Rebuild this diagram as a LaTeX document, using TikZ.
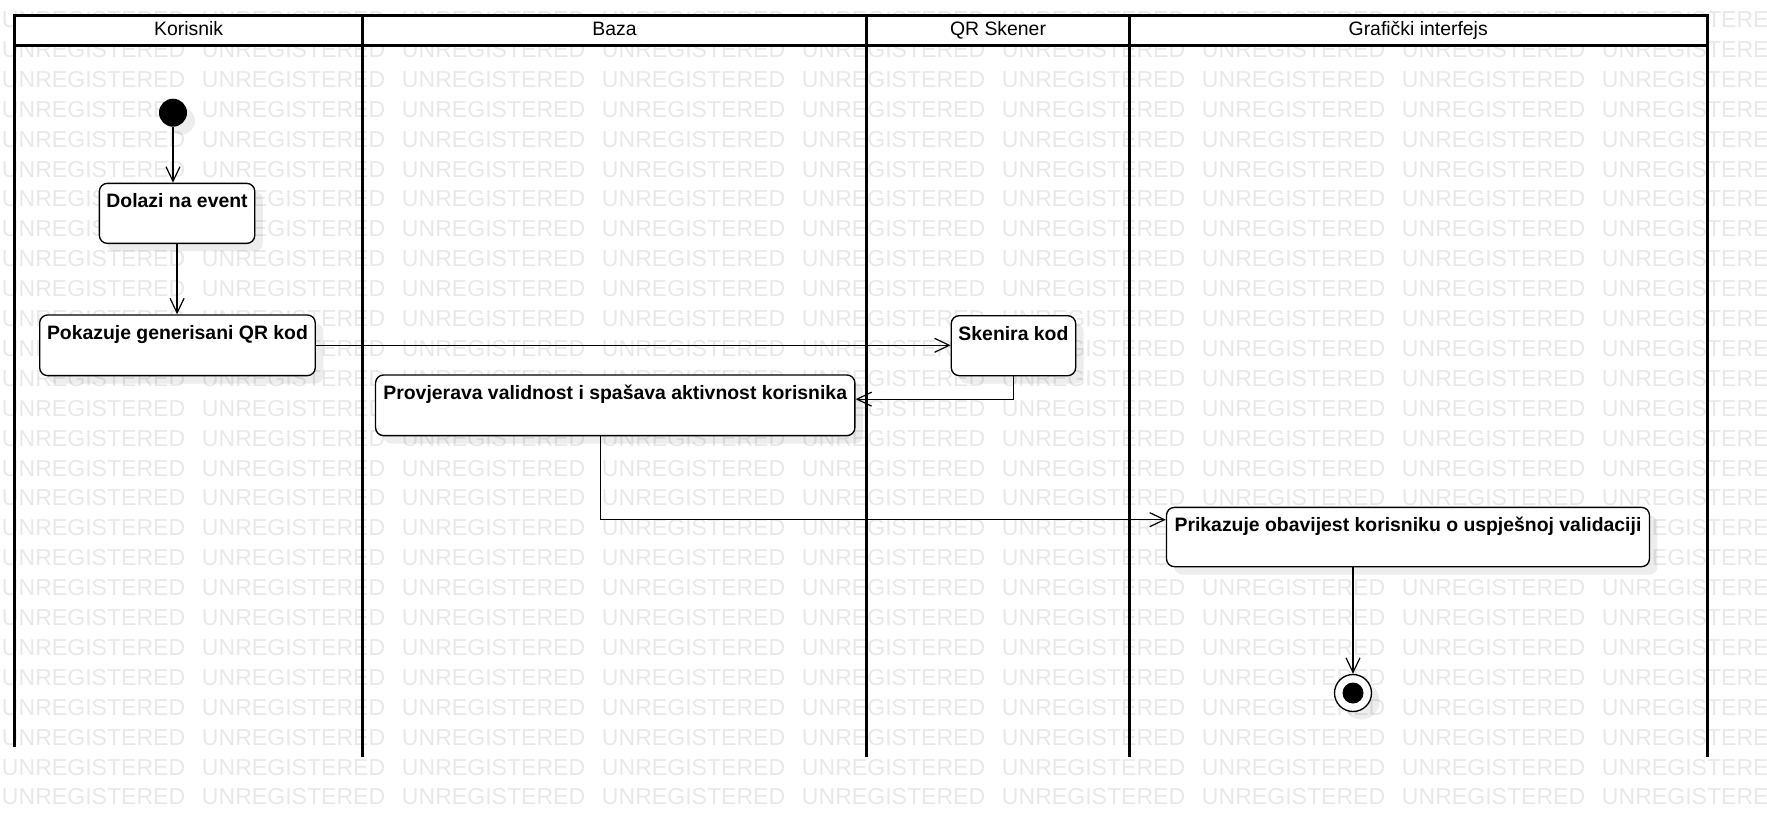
\documentclass[tikz,border=0pt]{standalone}
\usepackage{fontspec}
\setmainfont{Liberation Sans}
\usetikzlibrary{arrows.meta,calc,shadows}
\begin{document}
\begin{tikzpicture}[x=0.75pt,y=-0.75pt,
  lane/.style={line width=2.25pt},
  shad/.style={drop shadow={shadow xshift=6pt,shadow yshift=-6pt,fill=black,opacity=0.07}},
  act/.style={draw,line width=1pt,rounded corners=6pt,fill=white,inner sep=0pt,anchor=north west,shad},
  acttext/.style={font=\bfseries\fontsize{14.55pt}{17pt}\selectfont,anchor=base,inner sep=0pt},
  hdr/.style={font=\fontsize{14.55pt}{17pt}\selectfont,anchor=base,inner sep=0pt},
  flow/.style={line width=0.9pt,-{Straight Barb[length=11pt,width=10.5pt]}},
  wm/.style={font=\fontsize{17.3pt}{20pt}\selectfont,text=black!9,anchor=base west,inner sep=0pt}]
\useasboundingbox (0,0) rectangle (1767,819);
% watermark
\begin{scope}
\clip (0,0) rectangle (1767,819);
\foreach \r in {-2,...,24}{
  \foreach \c in {0,...,8}{
    \node[wm] (wm\r-\c) at ({1.7+200*\c},{87.3+29.9*\r}) {UNREGISTERED};
  }
}
\end{scope}
% swimlanes
\draw[lane,fill=white] (14.5,15) rectangle (1707,45);
\draw[lane] (14.5,15) -- (14.5,746.7);
\draw[lane] (362.8,15) -- (362.8,757);
\draw[lane] (866.5,15) -- (866.5,757);
\draw[lane] (1129.5,15) -- (1129.5,757);
\draw[lane] (1707,15) -- (1707,757);
\node[hdr] (hK) at (188.6,35) {Korisnik};
\node[hdr] (hB) at (614.6,35) {Baza};
\node[hdr] (hQ) at (998,35) {QR Skener};
\node[hdr] (hG) at (1418.2,35) {Grafički interfejs};
% start / end
\node[circle,fill=black,minimum size=21pt,inner sep=0pt,shad] (init) at (173,112.7) {};
\node[circle,draw,line width=1pt,fill=white,minimum size=27.75pt,inner sep=0pt,shad] (fin) at (1353,693) {};
\node[circle,fill=black,minimum size=15.75pt,inner sep=0pt] (finin) at (fin) {};
% activities
\node[act,minimum width=116.55pt,minimum height=45pt] (dolazi) at (98.7,182.7) {};
\node[acttext] (tdolazi) at ($(dolazi.north)+(0,25)$) {Dolazi na event};
\node[act,minimum width=206.7pt,minimum height=45.5pt] (pokazuje) at (39,314.3) {};
\node[acttext] (tpokazuje) at ($(pokazuje.north)+(0,25)$) {Pokazuje generisani QR kod};
\node[act,minimum width=93.3pt,minimum height=45pt] (skenira) at (950.6,315) {};
\node[acttext] (tskenira) at ($(skenira.north)+(0,25)$) {Skenira kod};
\node[act,minimum width=359.5pt,minimum height=45.5pt] (provjerava) at (374.9,374.3) {};
\node[acttext] (tprovjerava) at ($(provjerava.north)+(0,25)$) {Provjerava validnost i spašava aktivnost korisnika};
\node[act,minimum width=362.25pt,minimum height=44.5pt] (prikazuje) at (1165.8,506.7) {};
\node[acttext] (tprikazuje) at ($(prikazuje.north)+(0,25)$) {Prikazuje obavijest korisniku o uspješnoj validaciji};
% flows
\draw[flow] (init) -- (init |- dolazi.north);
\draw[flow] (dolazi.south) -- (dolazi.south |- pokazuje.north);
\draw[flow] (pokazuje.east) -- (pokazuje.east -| skenira.west);
\draw[flow] (skenira.south) |- ([yshift=4.6pt]provjerava.east);
\draw[flow] ([xshift=-10.9pt]provjerava.south) |- ([yshift=13pt]prikazuje.west);
\draw[flow] (prikazuje.south -| fin) -- (fin);
\end{tikzpicture}
\end{document}
